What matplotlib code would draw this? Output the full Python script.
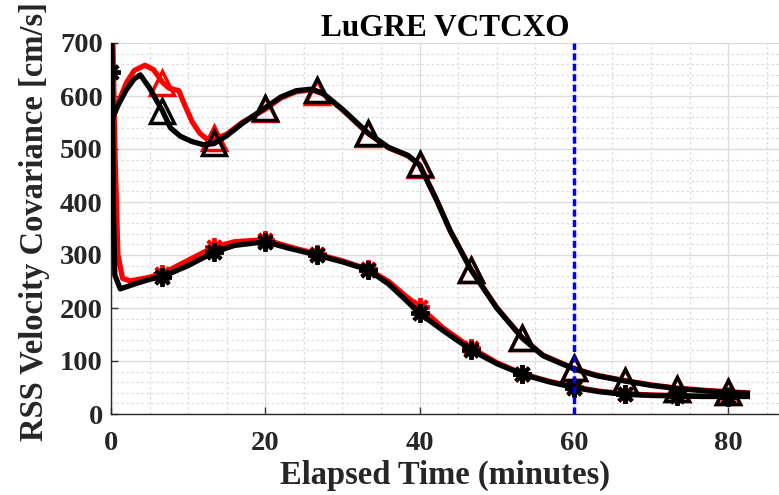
import matplotlib
matplotlib.use("Agg")
import matplotlib.pyplot as plt
from matplotlib.ticker import MultipleLocator

# ---- data ----
t_up_black = [0, 1, 2, 3, 3.8, 5, 6.67, 7.7, 9, 10.5, 12, 13.33, 15, 17, 20, 22, 24, 26, 27.5,
              30, 33.33, 36, 38.5, 40, 41, 42.2, 44, 46.67, 50, 53.33, 56, 60, 63, 66.67, 70,
              73.33, 76.7, 80, 82.5]
v_up_black = [552, 585, 612, 632, 640, 615, 572, 540, 524, 514, 508, 510, 525, 548, 578, 598, 610,
              613, 605, 575, 530, 503, 488, 470, 440, 404, 345, 272, 200, 143, 110, 85, 72, 62, 54,
              48, 44, 41, 39]

t_up_red = [0, 1, 2, 3, 4.4, 5.5, 6.67, 7.5, 8.8, 9.5, 10.5, 11.5, 12.5, 13.33, 15, 17, 20, 22, 24,
            26, 27.5, 30, 33.33, 36, 38.5, 40, 41, 42.2, 44, 46.67, 50, 53.33, 56, 60, 63, 66.67,
            70, 73.33, 76.7, 80, 82.5]
v_up_red = [550, 590, 625, 648, 658, 650, 626, 615, 610, 585, 552, 530, 518, 518, 528, 550, 575,
            596, 608, 612, 604, 574, 529, 502, 487, 470, 440, 404, 345, 273, 201, 144, 111, 86, 73,
            63, 55, 49, 45, 42, 40]

t_low_black = [0, 0.3, 0.5, 1.2, 3, 5, 6.67, 10, 13.33, 16, 20, 23, 26.67, 30, 33.33, 36, 38, 40,
               43, 46.67, 50, 53.33, 56.7, 60, 63.3, 66.67, 70, 73.33, 76.7, 80, 82.5]
v_low_black = [900, 400, 262, 236, 245, 254, 259, 280, 305, 318, 325, 313, 300, 287, 272, 245, 218,
               190, 158, 121, 95, 75, 61, 50, 42, 37, 35, 34, 33, 33, 33]

t_low_red = [0, 0.5, 0.9, 1.5, 2.5, 5, 6.67, 10, 13.33, 16, 20, 23, 26.67, 30, 33.33, 36, 38, 40,
             43, 46.67, 50, 53.33, 56.7, 60, 63.3, 66.67, 70, 73.33, 76.7, 80, 82.5]
v_low_red = [900, 500, 300, 256, 251, 258, 265, 290, 315, 325, 329, 316, 302, 289, 273, 250, 225,
             202, 163, 125, 97, 76, 62, 51, 43, 38, 36, 35, 34, 34, 34]

# markers
t_mark = [6.67, 13.33, 20, 26.67, 33.33, 40, 46.67, 53.33, 60, 66.67, 73.33, 80]
tri_black = [572, 512, 578, 611, 530, 472, 272, 143, 86, 63, 48, 42]
tri_red = [625, 520, 576, 608, 528, 470, 272, 143, 86, 63, 48, 42]
t_star_black = [0] + t_mark
star_black = [645, 259, 305, 325, 300, 272, 190, 121, 75, 50, 37, 34, 33]
star_red = [265, 316, 328, 302, 273, 202, 125, 76, 51, 38, 35, 34]

t_vline = 60
title = "LuGRE VCTCXO"
xlabel = "Elapsed Time (minutes)"
ylabel = "RSS Velocity Covariance [cm/s]"

plt.rcParams['font.family'] = ['Liberation Serif', 'DejaVu Serif']
plt.rcParams['font.weight'] = 'bold'

fig = plt.figure(figsize=(7.79, 4.95), dpi=100)
ax = fig.add_axes([111/779, 81/495, 1 - 111/779, (414-43)/495])

lw = 3.8
ax.plot(t_up_red, v_up_red, color='red', lw=lw, solid_joinstyle='round', zorder=3)
ax.plot(t_low_red, v_low_red, color='red', lw=lw, solid_joinstyle='round', zorder=3)
ax.plot(t_mark, tri_red, ls='none', marker='^', ms=17, mfc='none', mec='red', mew=2.5, zorder=4)
ax.plot(t_mark, star_red, ls='none', marker=(8, 2, 0), ms=13.5, mec='red', mew=2.8, zorder=4)

ax.plot(t_up_black, v_up_black, color='black', lw=lw, solid_joinstyle='round', zorder=5)
ax.plot(t_low_black, v_low_black, color='black', lw=lw, solid_joinstyle='round', zorder=5)
ax.plot(t_mark, tri_black, ls='none', marker='^', ms=17, mfc='none', mec='black', mew=2.5, zorder=6)
ax.plot(t_star_black, star_black, ls='none', marker=(8, 2, 0), ms=13.5, mec='black', mew=2.8,
        zorder=6)

ax.axvline(t_vline, color='blue', ls=(0, (2, 1)), lw=2.5, zorder=7)

ax.set_xlim(0, 86.6)
ax.set_ylim(0, 700)
ax.xaxis.set_major_locator(MultipleLocator(20))
ax.xaxis.set_minor_locator(MultipleLocator(5))
ax.yaxis.set_major_locator(MultipleLocator(100))
ax.yaxis.set_minor_locator(MultipleLocator(20))
ax.grid(True, which='major', color='#dcdcdc', lw=1.0, ls='-')
ax.grid(True, which='minor', color='#dcdcdc', lw=0.9, ls=(0, (2, 2)))
ax.set_axisbelow(True)
ax.tick_params(which='both', direction='in', labelsize=20.5, top=False, right=False)
ax.tick_params(which='minor', length=0)
ax.tick_params(which='major', length=5, width=1, color='#333333')
ax.tick_params(axis='x', which='major', pad=12)
ax.tick_params(axis='y', which='major', pad=6)
for lab in ax.get_xticklabels() + ax.get_yticklabels():
    lab.set_fontweight('bold')
    lab.set_color('#262626')
for s in ['top', 'right']:
    ax.spines[s].set_visible(False)
for s in ['left', 'bottom']:
    ax.spines[s].set_color('#262626')
    ax.spines[s].set_linewidth(1.0)

ax.set_title(title, fontsize=22.5, fontweight='bold', pad=4)
ax.set_xlabel(xlabel, fontsize=23.5, fontweight='bold', labelpad=3, color='#262626')
ax.set_ylabel(ylabel, fontsize=23.5, fontweight='bold', color='#262626')
ax.yaxis.set_label_coords(-0.092, 0.52)

fig.savefig("out.png", dpi=100)
